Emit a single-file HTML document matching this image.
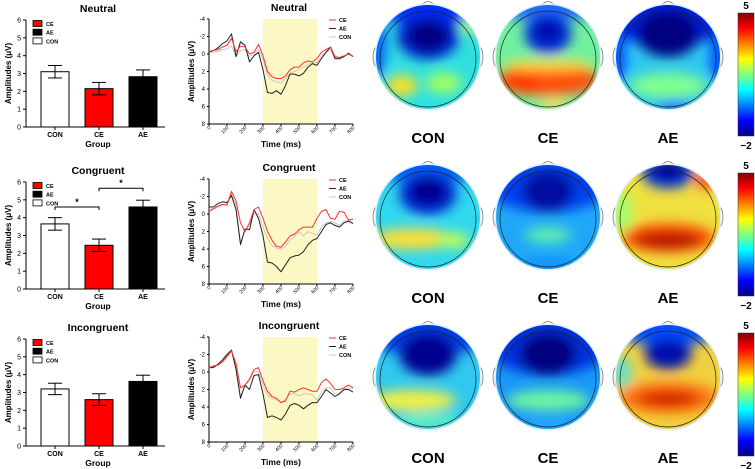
<!DOCTYPE html>
<html><head><meta charset="utf-8"><style>
html,body{margin:0;padding:0;background:#fff}
svg{display:block;font-family:"Liberation Sans",Arial,sans-serif}
</style></head><body>
<svg id="fig" width="755" height="469" viewBox="0 0 755 469" xmlns="http://www.w3.org/2000/svg">
<defs>
<linearGradient id="jet" x1="0" y1="1" x2="0" y2="0">
<stop offset="0" stop-color="#00008f"/><stop offset="0.125" stop-color="#0000ff"/><stop offset="0.375" stop-color="#00ffff"/><stop offset="0.5" stop-color="#80ff80"/><stop offset="0.625" stop-color="#ffff00"/><stop offset="0.875" stop-color="#ff0000"/><stop offset="1" stop-color="#800000"/>
</linearGradient>
<filter id="blur" x="-50%" y="-50%" width="200%" height="200%"><feGaussianBlur stdDeviation="6"/></filter>
</defs>
</svg>
<script>
const conditions = ["Neutral","Congruent","Incongruent"];
const groups = ["CON","CE","AE"];
const barMeans = [[3.1,2.15,2.82],[3.65,2.45,4.6],[3.2,2.6,3.62]];
const barErrs = [[0.35,0.35,0.38],[0.35,0.35,0.38],[0.32,0.33,0.35]];
const yTicksBar = [0,1,2,3,4,5,6];
const erpTimes = [0,25,50,75,100,125,150,175,200,225,250,275,300,325,350,375,400,425,450,475,500,525,550,575,600,625,650,675,700,725,750,775,800];
const erpCE = [
[-0.3,-0.4,-0.5,-0.8,-1.0,-1.8,-0.3,-0.9,-0.8,0.0,-0.2,-1.1,0.2,2.0,2.6,2.8,2.8,2.5,1.8,1.5,1.5,1.0,0.8,0.9,0.5,-0.2,-0.5,-0.8,0.3,0.4,0.2,0.0,0.3],
[-0.3,-0.6,-0.9,-1.1,-1.0,-2.6,-1.5,1.0,2.0,1.0,-0.5,-0.8,0.5,2.0,3.0,3.7,3.8,3.2,2.5,2.3,1.8,1.5,1.5,1.5,0.5,-0.3,-0.5,0.5,0.6,-0.3,-0.2,0.7,0.6],
[-0.5,-0.7,-0.8,-1.2,-1.8,-2.4,-1.0,1.8,1.5,0.8,-0.3,-0.5,1.0,2.2,2.8,3.0,3.5,3.3,2.2,2.3,2.0,1.8,2.0,2.2,2.2,1.2,0.8,1.3,2.0,2.0,1.8,1.5,1.8]];
const erpAE = [
[-0.2,-0.4,-0.7,-1.2,-1.5,-2.3,0.3,-1.4,-1.0,0.9,0.2,-0.2,1.8,4.4,4.5,4.2,4.6,3.6,2.3,2.3,2.5,2.2,1.5,1.1,1.3,0.5,-0.2,-0.8,0.5,0.5,0.3,-0.1,0.3],
[-0.8,-0.8,-1.2,-1.4,-1.3,-2.1,-0.5,3.5,1.7,1.8,-0.5,0.5,2.5,5.5,5.6,6.0,6.6,5.8,5.0,4.8,4.7,4.3,3.5,3.0,2.8,2.0,1.2,1.0,1.3,1.5,1.0,0.8,1.1],
[-0.5,-0.5,-0.9,-1.4,-2.0,-2.5,-0.3,3.0,1.5,2.0,0.4,0.3,2.5,5.2,5.0,5.2,5.5,4.8,3.8,3.6,3.8,4.2,3.8,3.5,3.5,2.8,2.0,2.4,2.8,2.5,2.0,2.0,2.3]];
const erpCON = [
[-0.3,-0.2,-0.3,-0.5,-0.6,-0.9,0.3,-0.4,-0.5,0.3,0.0,-0.5,0.6,2.4,3.0,3.2,3.3,2.8,2.2,2.0,1.8,1.5,1.2,1.0,1.0,0.2,-0.2,-0.5,0.6,0.6,0.3,0.0,0.2],
[-0.6,-0.6,-0.8,-1.0,-1.2,-2.3,-1.0,3.2,2.0,1.2,-0.1,0.0,1.5,2.8,3.6,3.9,4.0,3.7,3.0,2.6,2.0,2.5,2.0,2.2,2.4,1.5,1.0,0.9,1.0,1.3,0.8,0.8,1.0],
[-0.5,-0.6,-0.8,-1.1,-1.6,-2.5,-0.6,2.8,1.5,1.0,-0.1,0.0,1.5,2.6,3.0,3.2,3.5,3.1,2.5,2.5,2.7,2.5,2.5,2.6,3.2,2.3,1.8,1.8,2.5,2.4,2.0,1.8,2.0]];
const erpYTicks = [-4,-2,0,2,4,6,8];
const erpXTicks = [0,100,200,300,400,500,600,700,800];
const windowRange = [300,600];
// topomap blobs: [dx, dy, rx, ry, color] in units of head radius
const topoBase = [["#30e0e0","#70f0a0","#30c8f0"],["#30d8f0","#20a8f8","#f0e040"],["#30c8f0","#1898f8","#f0d040"]];
const topoBlobs = [
[[[0,-1.0,1.3,0.35,"#0030ff"],[0,-0.4,0.6,0.45,"#0020d0"],[0,-0.4,0.4,0.3,"#000080"],[-1.0,-0.2,0.2,0.6,"#0060ff"],[-0.5,0.55,0.3,0.2,"#ffe020"],[0.3,0.5,0.35,0.2,"#a0ff60"],[0.8,-0.6,0.15,0.15,"#c0ff60"]],
 [[0,-1.0,1.2,0.3,"#2070ff"],[0,-0.45,0.45,0.4,"#0030e0"],[0,-0.5,0.3,0.25,"#0010b0"],[0,0.45,1.0,0.3,"#ff5010"],[-0.5,0.5,0.3,0.15,"#ff3000"],[0,0.15,0.9,0.1,"#ffe040"],[0.1,0.9,0.3,0.1,"#ffe060"]],
 [[0,-0.75,1.2,0.55,"#0020e0"],[0,-0.45,0.6,0.45,"#000080"],[0,0.55,0.75,0.25,"#80ff90"],[0.1,0.95,0.3,0.1,"#0040ff"],[-1.0,0,0.2,0.5,"#0050ff"],[1.0,0,0.2,0.5,"#0050ff"]]],
[[[0,-1.0,1.2,0.35,"#0060ff"],[0,-0.45,0.55,0.4,"#0020d0"],[0,-0.5,0.35,0.28,"#000090"],[-0.3,0.42,0.8,0.2,"#ffe030"],[0.5,0.45,0.3,0.15,"#c0ff50"]],
 [[0,-0.6,1.2,0.5,"#0040f0"],[0,-0.5,0.5,0.4,"#0010a0"],[0,0.35,0.45,0.15,"#60f0b0"],[0,0.95,0.5,0.15,"#1090ff"]],
 [[0,-0.85,0.5,0.3,"#0030e0"],[0,-0.9,0.3,0.2,"#000090"],[0.75,-0.7,0.2,0.15,"#ff3000"],[0,0.4,0.9,0.28,"#ff5000"],[0,0.45,0.65,0.15,"#b00000"],[-0.9,-0.1,0.2,0.4,"#a0ff70"]]],
[[[0,-0.85,1.2,0.45,"#0040f0"],[0,-0.45,0.55,0.42,"#000090"],[-0.3,0.45,0.85,0.2,"#f8f040"],[0,0.85,0.6,0.15,"#60f0c0"]],
 [[0,-0.6,1.2,0.55,"#0030e0"],[0,-0.45,0.55,0.42,"#000080"],[0,0.45,0.8,0.2,"#70f8a0"],[0,0.95,0.5,0.1,"#20b0ff"]],
 [[0,-0.9,1.0,0.3,"#0050ff"],[0,-0.45,0.45,0.3,"#0010b0"],[0,0.4,0.95,0.3,"#ff7010"],[0,0.42,0.6,0.14,"#d00000"],[-0.9,-0.1,0.2,0.3,"#60e0d0"]]]];
const topoLabels = ["CON","CE","AE"];
const sigBrackets = [[],[[0,1,4.6],[1,2,5.65]],[]];

const svg = document.getElementById('fig');
const NS = "http://www.w3.org/2000/svg";
function mk(tag, attrs, parent, text){
  const e = document.createElementNS(NS, tag);
  for (const k in attrs) e.setAttribute(k, attrs[k]);
  if (text !== undefined) e.textContent = text;
  (parent || svg).appendChild(e);
  return e;
}
const rowBarTop = [20,182,339];
const rowErpTop = [19,179,337];
const rowTopoY = [57,217,377];
const colors = {CON:"#ffffff", CE:"#ff0000", AE:"#000000"};

for (let r = 0; r < 3; r++) {
  const g = mk('g', {});
  
  
  const top = rowBarTop[r], bot = top + 107, ax = 26;
  const yS = v => bot - v / 6 * (bot - top);
  const t = mk('text', {x: 98, y: top - 8, 'text-anchor': 'middle', 'font-size': 10.5, 'font-weight': 'bold'}, g, conditions[r]);
   
  mk('line', {x1: ax, y1: top, x2: ax, y2: bot, stroke: '#000', 'stroke-width': 1}, g);
  mk('line', {x1: ax, y1: bot, x2: 165, y2: bot, stroke: '#000', 'stroke-width': 1}, g);
  yTicksBar.forEach(v => {
    mk('line', {x1: ax - 3, y1: yS(v), x2: ax, y2: yS(v), stroke: '#000'}, g);
    mk('text', {x: ax - 5, y: yS(v) + 2.5, 'text-anchor': 'end', 'font-size': 7}, g, v);
  });
  const yl = mk('text', {x: 0, y: 0, transform: `translate(11,${(top + bot) / 2}) rotate(-90)`, 'text-anchor': 'middle', 'font-size': 8, 'font-weight': 'bold'}, g, 'Amplitudes (μV)');
   
  groups.forEach((gr, i) => {
    const cx = 55 + i * 44, w = 28;
    const b = mk('rect', {x: cx - w / 2, y: yS(barMeans[r][i]), width: w, height: bot - yS(barMeans[r][i]), fill: colors[gr], stroke: '#000', 'stroke-width': 1}, g);
     
    const hi = yS(barMeans[r][i] + barErrs[r][i]), lo = yS(barMeans[r][i] - barErrs[r][i]);
    mk('line', {x1: cx, y1: hi, x2: cx, y2: lo, stroke: '#000'}, g);
    mk('line', {x1: cx - 7, y1: hi, x2: cx + 7, y2: hi, stroke: '#000'}, g);
    mk('line', {x1: cx - 7, y1: lo, x2: cx + 7, y2: lo, stroke: '#000'}, g);
    mk('line', {x1: cx, y1: bot, x2: cx, y2: bot + 3, stroke: '#000'}, g);
    mk('text', {x: cx, y: bot + 10, 'text-anchor': 'middle', 'font-size': 7, 'font-weight': 'bold'}, g, gr);
  });
  sigBrackets[r].forEach(s => {
    const x1 = 55 + s[0] * 44, x2 = 55 + s[1] * 44, y = yS(s[2]);
    const p = mk('path', {d: `M${x1},${y + 3}V${y}H${x2}V${y + 3}`, fill: 'none', stroke: '#000'}, g);
     
    mk('text', {x: (x1 + x2) / 2, y: y - 2, 'text-anchor': 'middle', 'font-size': 9, 'font-weight': 'bold'}, g, '*');
  });
  mk('text', {x: 98, y: bot + 20, 'text-anchor': 'middle', 'font-size': 8.5, 'font-weight': 'bold'}, g, 'Group');
  ["CE","AE","CON"].forEach((gr, i) => {
    const le = mk('g', {}, g);
     
    mk('rect', {x: 33, y: top + 0.5 + i * 8.7, width: 9, height: 6, fill: colors[gr], stroke: '#000', 'stroke-width': 0.8}, le);
    mk('text', {x: 46, y: top + 6 + i * 8.7, 'font-size': 5.5, 'font-weight': 'bold'}, le, gr);
  });

  const e = mk('g', {});
  
  
  const et = rowErpTop[r], eb = et + 105, ex0 = 209, ex1 = 353;
  const xS = v => ex0 + v / 800 * (ex1 - ex0);
  const yE = v => et + (v + 4) / 12 * (eb - et);
  mk('text', {x: 289, y: et - 8, 'text-anchor': 'middle', 'font-size': 10.5, 'font-weight': 'bold'}, e, conditions[r]);
  const win = mk('rect', {x: xS(windowRange[0]), y: et, width: xS(windowRange[1]) - xS(windowRange[0]), height: eb - et, fill: '#fbf8c4'}, e);
   
  mk('line', {x1: ex0, y1: et, x2: ex0, y2: eb, stroke: '#000'}, e);
  mk('line', {x1: ex0, y1: eb, x2: ex1, y2: eb, stroke: '#000'}, e);
  erpYTicks.forEach(v => {
    mk('line', {x1: ex0 - 2, y1: yE(v), x2: ex0, y2: yE(v), stroke: '#000'}, e);
    mk('text', {x: ex0 - 4, y: yE(v) + 2, 'text-anchor': 'end', 'font-size': 6}, e, v);
  });
  erpXTicks.forEach(v => {
    mk('line', {x1: xS(v), y1: eb, x2: xS(v), y2: eb + 2, stroke: '#000'}, e);
    mk('text', {x: 0, y: 0, transform: `translate(${xS(v) + 2},${eb + 4}) rotate(-45)`, 'text-anchor': 'end', 'font-size': 5}, e, v);
  });
  mk('text', {x: 0, y: 0, transform: `translate(194,${(et + eb) / 2}) rotate(-90)`, 'text-anchor': 'middle', 'font-size': 8, 'font-weight': 'bold'}, e, 'Amplitudes (μV)');
  mk('text', {x: 281, y: eb + 23, 'text-anchor': 'middle', 'font-size': 8.5, 'font-weight': 'bold'}, e, 'Time (ms)');
  [[erpCON, '#c8c8c8', 'con'], [erpAE, '#222', 'ae'], [erpCE, '#ff3030', 'ce']].forEach(([arr, col, nm]) => {
    const pts = erpTimes.map((tm, i) => `${xS(tm).toFixed(1)},${yE(arr[r][i]).toFixed(1)}`).join(' ');
    const pl = mk('polyline', {points: pts, fill: 'none', stroke: col, 'stroke-width': 1, 'stroke-linejoin': 'round'}, e);
     
  });
  [["CE", '#ff3030'], ["AE", '#222'], ["CON", '#c8c8c8']].forEach(([nm, col], i) => {
    const le = mk('g', {}, e);
     
    mk('line', {x1: 329, y1: et + 1 + i * 8.5, x2: 336, y2: et + 1 + i * 8.5, stroke: col}, le);
    mk('text', {x: 339, y: et + 3 + i * 8.5, 'font-size': 5.5, 'font-weight': 'bold'}, le, nm);
  });

  for (let c = 0; c < 3; c++) {
    const tg = mk('g', {});
    
    
    const cx = 428 + c * 120, cy = rowTopoY[r], R = 52;
    const cid = `clip${r}${c}`;
    const cp = mk('clipPath', {id: cid}, tg);
    mk('circle', {cx, cy, r: R}, cp);
    mk('path', {d: `M${cx - 7},${cy - R + 1}Q${cx},${cy - R - 8} ${cx + 7},${cy - R + 1}`, fill: 'none', stroke: '#777', 'stroke-width': 0.8}, tg);
    mk('ellipse', {cx: cx - R + 1, cy, rx: 4, ry: 10, fill: 'none', stroke: '#777', 'stroke-width': 0.8}, tg);
    mk('ellipse', {cx: cx + R - 1, cy, rx: 4, ry: 10, fill: 'none', stroke: '#777', 'stroke-width': 0.8}, tg);
    mk('circle', {cx, cy, r: R + 1.5, fill: '#dfeefa'}, tg);
    const inner = mk('g', {'clip-path': `url(#${cid})`}, tg);
    mk('rect', {x: cx - R, y: cy - R, width: 2 * R, height: 2 * R, fill: topoBase[r][c]}, inner);
    const bl = mk('g', {filter: 'url(#blur)'}, inner);
    topoBlobs[r][c].forEach(b => {
      mk('ellipse', {cx: cx + b[0] * R, cy: cy + b[1] * R, rx: b[2] * R, ry: b[3] * R, fill: b[4]}, bl);
    });
    mk('circle', {cx, cy: cy + 2, r: R - 4, fill: 'none', stroke: '#222', 'stroke-width': 0.7}, tg);
    const lb = mk('text', {x: cx, y: cy + 86, 'text-anchor': 'middle', 'font-size': 15, 'font-weight': 'bold'}, tg, topoLabels[c]);
     
  }
  const cb = mk('g', {});
  
  
  const cbt = rowTopoY[r] - 44;
  mk('rect', {x: 738, y: cbt, width: 16, height: 123, fill: 'url(#jet)', stroke: '#333', 'stroke-width': 0.5}, cb);
  mk('text', {x: 746, y: cbt - 4, 'text-anchor': 'middle', 'font-size': 10, 'font-weight': 'bold'}, cb, '5');
  mk('text', {x: 746, y: cbt + 136, 'text-anchor': 'middle', 'font-size': 10, 'font-weight': 'bold'}, cb, '−2');
}
</script>
</body></html>
